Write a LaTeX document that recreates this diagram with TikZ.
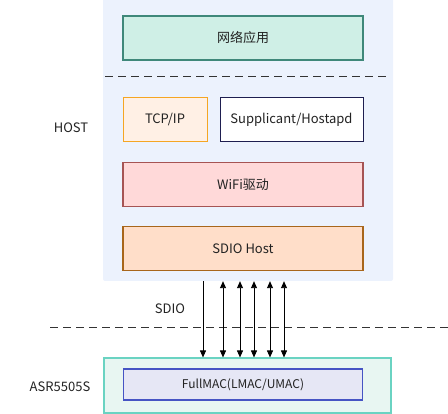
\documentclass[tikz,border=0pt]{standalone}
\usepackage{fontspec}
\setmainfont{Noto Sans CJK SC}
\usetikzlibrary{arrows.meta}

\definecolor{hostblue}{RGB}{236,242,253}
\definecolor{appfill}{RGB}{207,239,230}
\definecolor{appline}{RGB}{63,136,122}
\definecolor{tcpfill}{RGB}{255,240,229}
\definecolor{tcpline}{RGB}{245,166,35}
\definecolor{suppline}{RGB}{30,30,80}
\definecolor{wififill}{RGB}{255,217,217}
\definecolor{wifiline}{RGB}{166,84,84}
\definecolor{sdiofill}{RGB}{255,222,201}
\definecolor{sdioline}{RGB}{168,102,27}
\definecolor{chipfill}{RGB}{232,246,242}
\definecolor{chipline}{RGB}{106,211,194}
\definecolor{macfill}{RGB}{230,231,245}
\definecolor{macline}{RGB}{70,84,196}
\definecolor{txt}{RGB}{34,34,34}

\begin{document}
\begin{tikzpicture}[x=1pt, y=-1pt,
    font=\fontsize{13}{15}\selectfont, text=txt,
    layer/.style={draw, line width=1.6pt, minimum width=240pt, minimum height=44pt},
    small box/.style={draw, line width=1pt, minimum height=44pt},
    sep line/.style={dashed, dash pattern=on 8pt off 5pt, line width=0.9pt, black!80},
    bus/.style={line width=0.9pt, -{Triangle[length=7pt,width=6pt]}}]
  \useasboundingbox (0,0) rectangle (448,414);

  % Host side
  \node[fill=hostblue, rounded corners=2pt, minimum width=290pt, minimum height=284pt] (hostbg) at (248,139) {};
  \node[layer, draw=appline, fill=appfill] (app) at (243,38) {网络应用};
  \draw[sep line] (105,76) -- (388,76);
  \node[small box, draw=tcpline, fill=tcpfill, minimum width=84pt] (tcp) at (165,120) {TCP/IP};
  \node[small box, draw=suppline, fill=white, minimum width=143pt] (supp) at (291.5,120) {Supplicant/Hostapd};
  \node[layer, draw=wifiline, fill=wififill] (wifi) at (243,184.5) {WiFi驱动};
  \node[layer, draw=sdioline, fill=sdiofill] (sdiohost) at (243,248.5) {SDIO Host};
  \node (host) at (71,128) {HOST};

  % Chip side
  \node[draw=chipline, line width=1.1pt, fill=chipfill, minimum width=287pt, minimum height=55pt] (chip) at (247.5,385.5) {};
  \node[draw=macline, line width=1.1pt, fill=macfill, minimum width=239pt, minimum height=31pt,
    font=\fontsize{12}{14}\selectfont] (mac) at (243,384.5) {FullMAC(LMAC/UMAC)};
  \node (asr) at (60,387) {ASR5505S};

  % SDIO bus
  \draw[sep line] (50,327) -- (448,327);
  \node (sdio) at (170,309) {SDIO};
  \draw[bus] (hostbg.south -| 203,0) -- (chip.north -| 203,0);
  \foreach \x in {223,240,254,270,284}
    \draw[bus, {Triangle[length=7pt,width=6pt]}-{Triangle[length=7pt,width=6pt]}]
      (hostbg.south -| \x,0) -- (chip.north -| \x,0);
\end{tikzpicture}
\end{document}
